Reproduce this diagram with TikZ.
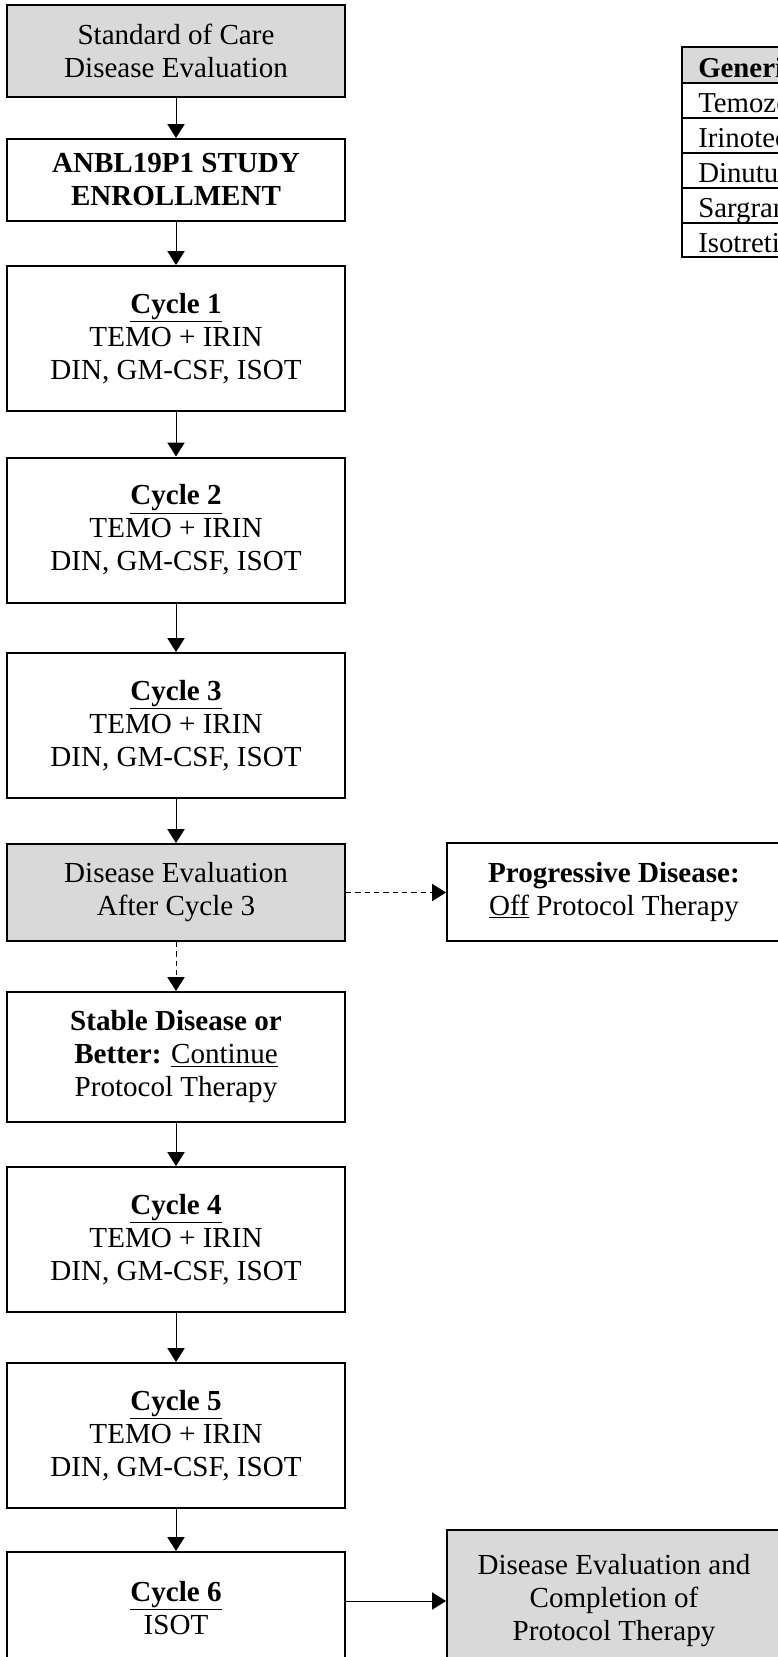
\documentclass[tikz,border=0pt]{standalone}
\usepackage{fontspec}
\setmainfont{Liberation Serif}
\usetikzlibrary{arrows.meta, positioning}
\definecolor{evalgray}{HTML}{D9D9D9}
\definecolor{ink}{HTML}{000000}
\newcommand{\boxfont}{\fontsize{21.8pt}{24.75pt}\selectfont}
\newcommand{\tabfont}{\fontsize{21.6pt}{24pt}\selectfont}
\newcommand{\cyc}[1]{\underline{\textbf{Cycle #1}}}

\tikzset{
  flowbox/.style={draw=ink, line width=1.5pt, align=center, font=\boxfont,
    minimum width=253.5pt, inner sep=0pt},
  evalbox/.style={flowbox, fill=evalgray},
  flowarrow/.style={-{Triangle[length=10.5pt, width=13pt]}, line width=0.75pt},
  tabcell/.style={anchor=base west, font=\tabfont, inner sep=0pt},
}

\begin{document}
\begin{tikzpicture}[x=0.75pt, y=-0.75pt]

\useasboundingbox (0,0) rectangle (778,1657);
\clip (0,0) rectangle (778,1657);

% Main column
\node[evalbox, minimum height=69pt] (soc) at (176,51) {Standard of Care\\Disease Evaluation};
\node[flowbox, minimum height=61.5pt] (enroll) at (176,180) {\textbf{ANBL19P1 STUDY}\\\textbf{ENROLLMENT}};
\node[flowbox, minimum height=108.75pt] (cyc1) at (176,338.5) {\cyc{1}\\TEMO + IRIN\\DIN, GM-CSF, ISOT};
\node[flowbox, minimum height=108.75pt] (cyc2) at (176,530) {\cyc{2}\\TEMO + IRIN\\DIN, GM-CSF, ISOT};
\node[flowbox, minimum height=108.75pt] (cyc3) at (176,725.5) {\cyc{3}\\TEMO + IRIN\\DIN, GM-CSF, ISOT};
\node[evalbox, minimum height=72.75pt] (eval) at (176,892.5) {Disease Evaluation\\After Cycle 3};
\node[flowbox, minimum height=97.5pt] (stable) at (176,1057) {\textbf{Stable Disease or}\\\textbf{Better:} \underline{Continue}\\Protocol Therapy};
\node[flowbox, minimum height=108.75pt] (cyc4) at (176,1239.5) {\cyc{4}\\TEMO + IRIN\\DIN, GM-CSF, ISOT};
\node[flowbox, minimum height=108.75pt] (cyc5) at (176,1435.5) {\cyc{5}\\TEMO + IRIN\\DIN, GM-CSF, ISOT};
\node[flowbox, minimum height=108.75pt] (cyc6) at (176,1624.5) {\cyc{6}\\ISOT\\\mbox{}};

% Side boxes
\node[flowbox, minimum width=250.5pt, minimum height=73.5pt] (prog) at (614,892) {\textbf{Progressive Disease:}\\\underline{Off} Protocol Therapy};
\node[evalbox, minimum width=250.5pt, minimum height=106.5pt] (done) at (614,1601) {Disease Evaluation and\\Completion of\\Protocol Therapy};

% Connectors
\draw[flowarrow] (soc) -- (enroll);
\draw[flowarrow] (enroll) -- (cyc1);
\draw[flowarrow] (cyc1) -- (cyc2);
\draw[flowarrow] (cyc2) -- (cyc3);
\draw[flowarrow] (cyc3) -- (eval);
\draw[flowarrow, dash pattern=on 4pt off 3pt] (eval) -- (stable);
\draw[flowarrow, dash pattern=on 4pt off 3pt] (eval.east) -- (prog.west |- eval.east);
\draw[flowarrow] (stable) -- (cyc4);
\draw[flowarrow] (cyc4) -- (cyc5);
\draw[flowarrow] (cyc5) -- (cyc6);
\draw[flowarrow] (cyc6.east |- done.west) -- (done.west);

% Drug table
\fill[evalgray] (682,47) rectangle (900,83);
\foreach \yy in {83,118,153,188,223}
  \draw[line width=1pt] (682,\yy) -- (900,\yy);
\draw[line width=1.5pt] (682,47) rectangle (900,257);
\node[tabcell] (tabhead) at (698,77) {\textbf{Generic Name}};
\foreach \drug [count=\i] in {Temozolomide, Irinotecan, Dinutuximab, Sargramostim, Isotretinoin}
  \node[tabcell] (drug\i) at (698,{65+35*\i+12}) {\drug};

\end{tikzpicture}
\end{document}
